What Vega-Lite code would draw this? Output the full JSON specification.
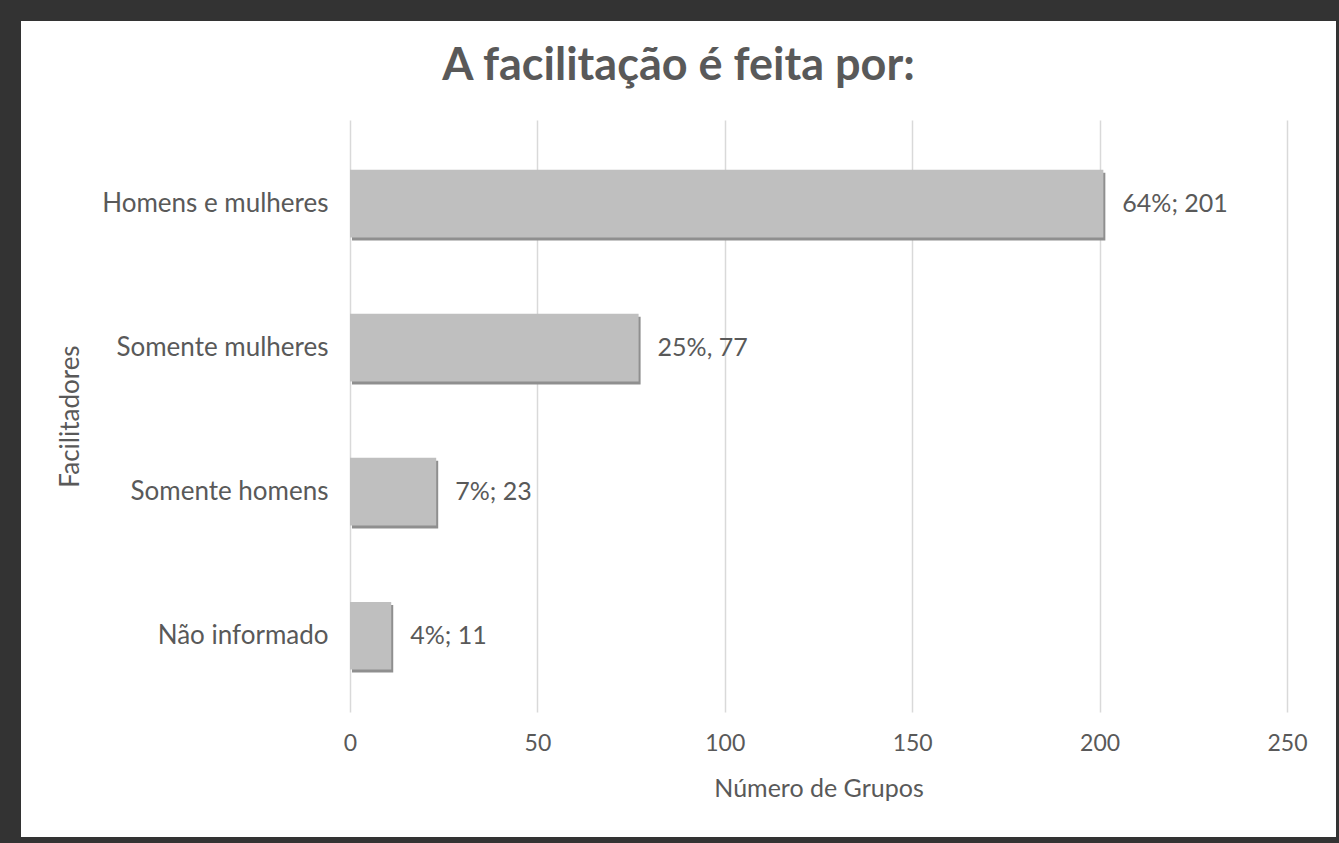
{
  "$schema": "https://vega.github.io/schema/vega-lite/v6.json",
  "width": 1315,
  "height": 816,
  "autosize": {"type": "none"},
  "padding": {"left": 21, "top": 21, "right": 3, "bottom": 6},
  "background": "#333333",
  "config": {"view": {"fill": "white", "stroke": null}, "font": "Lato"},
  "title": {
    "text": "A facilitação é feita por:",
    "fontSize": 45,
    "font": "Lato",
    "fontWeight": "bold",
    "color": "#595959",
    "anchor": "middle",
    "offset": -68
  },
  "data": {
    "values": [
      {"cat": "Homens e mulheres", "value": 201, "label": "64%; 201"},
      {"cat": "Somente mulheres", "value": 77, "label": "25%, 77"},
      {"cat": "Somente homens", "value": 23, "label": "7%; 23"},
      {"cat": "Não informado", "value": 11, "label": "4%; 11"}
    ]
  },
  "encoding": {
    "y": {
      "field": "cat",
      "type": "nominal",
      "sort": null,
      "title": "Facilitadores",
      "scale": {"range": [99, 691], "paddingInner": 0.53, "paddingOuter": 0.32, "align": 0.54},
      "axis": {
        "orient": "left",
        "offset": -329,
        "domain": false,
        "ticks": false,
        "labelPadding": 22,
        "labelLimit": 0,
        "labelFontSize": 26,
        "labelColor": "#595959",
        "labelFont": "Lato",
        "titleFont": "Lato",
        "titleFontSize": 26,
        "titleColor": "#595959",
        "titleFontWeight": "normal",
        "titleX": -280,
        "titleBaseline": "middle",
        "titleAngle": -90
      }
    },
    "x": {
      "field": "value",
      "type": "quantitative",
      "title": "Número de Grupos",
      "scale": {"domain": [0, 250], "range": [329, 1266], "nice": false},
      "axis": {
        "orient": "top",
        "offset": -730,
        "domain": false,
        "ticks": false,
        "grid": true,
        "gridColor": "#d9d9d9",
        "gridWidth": 1.5,
        "values": [0, 50, 100, 150, 200, 250],
        "labelFlush": false,
        "labelPadding": 8,
        "labelBaseline": "middle",
        "labelFontSize": 23,
        "labelColor": "#595959",
        "labelFont": "Lato",
        "titleFont": "Lato",
        "titleFontSize": 25,
        "titleColor": "#595959",
        "titleFontWeight": "normal",
        "titleY": 37,
        "titleBaseline": "middle"
      }
    }
  },
  "layer": [
    {"mark": {"type": "bar", "color": "#8f8f8f", "xOffset": 2, "yOffset": 3}},
    {"mark": {"type": "bar", "color": "#bfbfbf"}},
    {
      "mark": {"type": "text", "align": "left", "baseline": "middle", "dx": 19, "fontSize": 25, "color": "#595959", "font": "Lato"},
      "encoding": {"text": {"field": "label"}}
    }
  ]
}
